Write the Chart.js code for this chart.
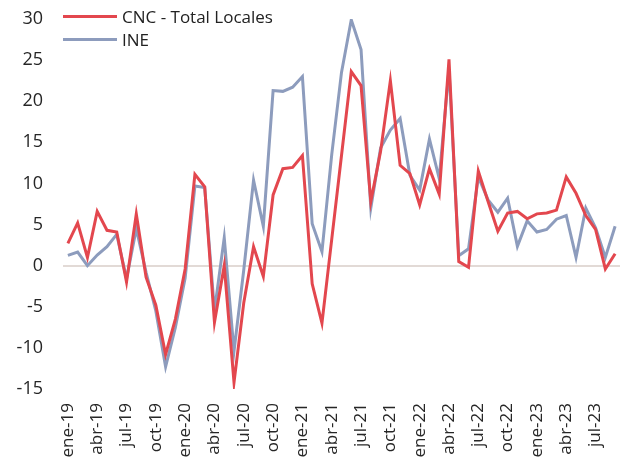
<!DOCTYPE html>
<html>
<head>
<meta charset="utf-8">
<script src="https://cdn.jsdelivr.net/npm/chart.js@4"></script>
<style>
  html, body { margin: 0; padding: 0; background: #fff; overflow: hidden; }
  #wrap { position: relative; width: 631px; height: 463px; }
  #legend { position: absolute; left: 63px; top: 5px; font-family: "Open Sans", sans-serif; font-size: 17px; color: #222; }
  #legend div { height: 23px; display: flex; align-items: center; }
  #legend span.swatch { display: inline-block; width: 54px; height: 3px; margin-right: 5px; }
</style>
</head>
<body>
<div id="wrap">
  <canvas id="chart" width="631" height="463"></canvas>
  <div id="legend"></div>
</div>
<script>
var months = ['ene', 'feb', 'mar', 'abr', 'may', 'jun', 'jul', 'ago', 'sep', 'oct', 'nov', 'dic'];
var years = ['19', '20', '21', '22', '23'];
var lastMonth = 9; // up to sep-23

var cncTotal = [2.7, 5.2, 1.0, 6.6, 4.3, 4.1, -2.0, 6.3, -1.4, -4.8,
  -10.8, -6.5, -0.4, 11.1, 9.6, -6.9, 0.0, -14.2, -4.5, 2.3,
  -1.3, 8.6, 11.8, 11.95, 13.4, -2.2, -7.0, 3.2, 13.4, 23.6,
  21.9, 7.8, 13.9, 22.5, 12.2, 11.2, 7.4, 11.8, 8.7, 25.1,
  0.5, -0.2, 11.5, 7.8, 4.2, 6.4, 6.6, 5.7, 6.3, 6.4,
  6.75, 10.8, 8.8, 6.1, 4.4, -0.4, 1.45];

var ine = [1.25, 1.65, 0.0, 1.3, 2.3, 3.8, -1.6, 4.5, -0.8, -5.5,
  -12.3, -7.5, -1.5, 9.7, 9.5, -5.5, 3.4, -10.4, -0.5, 10.4,
  4.8, 21.3, 21.2, 21.7, 23.0, 5.1, 1.7, 13.5, 23.5, 29.9,
  26.3, 7.0, 14.3, 16.5, 17.9, 11.0, 9.2, 15.4, 10.6, 23.9,
  1.2, 2.05, 10.8, 8.0, 6.5, 8.2, 2.35, 5.45, 4.1, 4.4,
  5.65, 6.1, 1.0, 7.0, 4.6, 1.0, 4.8];

var labels = [];
years.forEach(function (y, yi) {
  months.forEach(function (m, mi) {
    if (yi < years.length - 1 || mi < lastMonth) labels.push(m + '-' + y);
  });
});

var red = '#e3474e';
var blue = '#8d9cbd';

var ctx = document.getElementById('chart').getContext('2d');
var chart = new Chart(ctx, {
  type: 'line',
  data: {
    labels: labels,
    datasets: [{
      label: 'CNC - Total Locales',
      data: cncTotal,
      borderColor: red,
      backgroundColor: red,
      borderWidth: 3,
      pointRadius: 0,
      tension: 0
    }, {
      label: 'INE',
      data: ine,
      borderColor: blue,
      backgroundColor: blue,
      borderWidth: 3,
      pointRadius: 0,
      tension: 0
    }]
  },
  options: {
    responsive: false,
    animation: false,
    layout: { padding: { top: 19, right: 11, left: 0, bottom: 0 } },
    plugins: { legend: { display: false }, tooltip: { enabled: false } },
    scales: {
      x: {
        offset: true,
        grid: { display: false },
        border: { display: false },
        ticks: {
          autoSkip: false,
          maxRotation: 90,
          minRotation: 90,
          padding: 6,
          color: '#262626',
          font: { family: 'Open Sans', size: 17 },
          callback: function (v, i) { return i % 3 === 0 ? labels[i] : ''; }
        },
        afterFit: function (scale) {
          scale.height = 74;
          scale.paddingLeft = 0;
          scale.paddingRight = 0;
        }
      },
      y: {
        min: -15,
        max: 30,
        border: { display: false },
        grid: {
          drawTicks: false,
          lineWidth: 2,
          color: function (c) { return c.tick && c.tick.value === 0 ? '#e2dad6' : 'transparent'; }
        },
        ticks: {
          stepSize: 5,
          padding: 20,
          color: '#262626',
          font: { family: 'Open Sans', size: 18 }
        },
        afterFit: function (scale) {
          scale.width = 63;
          scale.paddingTop = 0;
          scale.paddingBottom = 0;
        }
      }
    }
  }
});

var legend = document.getElementById('legend');
chart.data.datasets.forEach(function (ds) {
  var row = document.createElement('div');
  var sw = document.createElement('span');
  sw.className = 'swatch';
  sw.style.background = ds.borderColor;
  row.appendChild(sw);
  row.appendChild(document.createTextNode(ds.label));
  legend.appendChild(row);
});
</script>
</body>
</html>
